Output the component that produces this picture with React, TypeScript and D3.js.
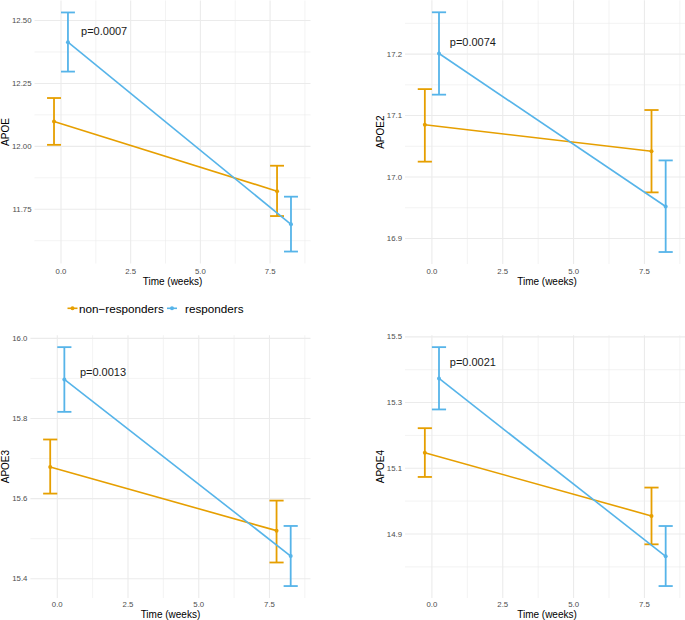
import React from "react";
import * as d3 from "d3";

// ---------- data ----------
const panelNames = ["APOE", "APOE2", "APOE3", "APOE4"];
const timePoints = [0, 8];
const groupNames = ["non\u2212responders", "responders"];
const groupColors = ["#E69F00", "#56B4E9"];
const groupDodge = [-0.25, 0.25];
const errorBarWidth = 0.5;

const nonMean = [
  [12.099, 11.822],
  [17.085, 17.042],
  [15.679, 15.52],
  [15.147, 14.955],
];
const nonLower = [
  [12.006, 11.723],
  [17.025, 16.975],
  [15.6125, 15.4405],
  [15.0736, 14.8686],
];
const nonUpper = [
  [12.192, 11.923],
  [17.143, 17.109],
  [15.7475, 15.595],
  [15.222, 15.0413],
];
const respMean = [
  [12.414, 11.69],
  [17.201, 16.952],
  [15.8975, 15.4567],
  [15.3733, 14.832],
];
const respLower = [
  [12.297, 11.582],
  [17.134, 16.878],
  [15.8165, 15.3817],
  [15.279, 14.7416],
];
const respUpper = [
  [12.532, 11.8],
  [17.268, 17.027],
  [15.978, 15.5317],
  [15.4686, 14.9243],
];

const pLabels = ["p=0.0007", "p=0.0074", "p=0.0013", "p=0.0021"];
const pLabelX = [0.72, 0.63, 0.8, 0.63];
const pLabelY = [12.459, 17.22, 15.917, 15.424];

const yTicks = [
  [11.75, 12.0, 12.25, 12.5],
  [16.9, 17.0, 17.1, 17.2],
  [15.4, 15.6, 15.8, 16.0],
  [14.9, 15.1, 15.3, 15.5],
];
const yDecimals = [2, 1, 1, 1];
const xTicks = [0, 2.5, 5, 7.5];
const xTitle = "Time (weeks)";

// ---------- layout ----------
const layouts = [
  { left: 34.5, right: 310.5, top: 0.5, bottom: 263.5, yTitleX: 5, xTickY: 271, xTitleY: 281 },
  { left: 405, right: 685.5, top: 0.3, bottom: 264, yTitleX: 380, xTickY: 271, xTitleY: 281 },
  { left: 30.4, right: 310.5, top: 335.2, bottom: 598, yTitleX: 5, xTickY: 604, xTitleY: 614 },
  { left: 405, right: 685.5, top: 335.2, bottom: 598, yTitleX: 380, xTickY: 604, xTitleY: 614 },
];

const FONT = "'Liberation Sans', Arial, Helvetica, sans-serif";

function minorBreaks(major: number[], lo: number, hi: number) {
  const step = major[1] - major[0];
  const out: number[] = [];
  for (let i = -1; i < major.length; i++) {
    const v = major[0] + step * (i + 0.5);
    if (v >= lo && v <= hi) out.push(v);
  }
  return out;
}

function Panel({ idx }: { idx: number }) {
  const L = layouts[idx];
  const groups = [
    { mean: nonMean[idx], lo: nonLower[idx], hi: nonUpper[idx] },
    { mean: respMean[idx], lo: respLower[idx], hi: respUpper[idx] },
  ];
  const allLo = d3.min(groups.flatMap((g) => g.lo)) as number;
  const allHi = d3.max(groups.flatMap((g) => g.hi)) as number;
  const yPad = (allHi - allLo) * 0.05;
  const xMin = timePoints[0] + groupDodge[0] - errorBarWidth / 2;
  const xMax = timePoints[1] + groupDodge[1] + errorBarWidth / 2;
  const xPad = (xMax - xMin) * 0.05;

  const x = d3.scaleLinear().domain([xMin - xPad, xMax + xPad]).range([L.left, L.right]);
  const y = d3.scaleLinear().domain([allLo - yPad, allHi + yPad]).range([L.bottom, L.top]);
  const [yd0, yd1] = y.domain();
  const [xd0, xd1] = x.domain();
  const xMinor = minorBreaks(xTicks, xd0, xd1);
  const yMinor = minorBreaks(yTicks[idx], yd0, yd1);
  const line = d3
    .line<[number, number]>()
    .x((d) => x(d[0]))
    .y((d) => y(d[1]));
  const fmt = d3.format(`.${yDecimals[idx]}f`);
  const midY = (L.top + L.bottom) / 2;

  return (
    <g>
      {/* minor grid */}
      {xMinor.map((v) => (
        <line key={"xm" + v} x1={x(v)} x2={x(v)} y1={L.top} y2={L.bottom} stroke="#EBEBEB" strokeWidth={0.6} />
      ))}
      {yMinor.map((v) => (
        <line key={"ym" + v} x1={L.left} x2={L.right} y1={y(v)} y2={y(v)} stroke="#EBEBEB" strokeWidth={0.6} />
      ))}
      {/* major grid */}
      {xTicks.map((v) => (
        <line key={"xM" + v} x1={x(v)} x2={x(v)} y1={L.top} y2={L.bottom} stroke="#EBEBEB" strokeWidth={1.1} />
      ))}
      {yTicks[idx].map((v) => (
        <line key={"yM" + v} x1={L.left} x2={L.right} y1={y(v)} y2={y(v)} stroke="#EBEBEB" strokeWidth={1.1} />
      ))}
      {/* tick labels */}
      {xTicks.map((v) => (
        <text key={"xt" + v} x={x(v)} y={L.xTickY} textAnchor="middle" dominantBaseline="central" fontSize={7.8} fill="#4D4D4D" fontFamily={FONT}>
          {d3.format(".1f")(v)}
        </text>
      ))}
      {yTicks[idx].map((v) => (
        <text key={"yt" + v} x={L.left - 3} y={y(v)} textAnchor="end" dominantBaseline="central" fontSize={7.8} fill="#4D4D4D" fontFamily={FONT}>
          {fmt(v)}
        </text>
      ))}
      {/* axis titles */}
      <text x={(L.left + Math.min(L.right, 685)) / 2 + (idx % 2 === 1 ? 2 : 0)} y={L.xTitleY} textAnchor="middle" dominantBaseline="central" fontSize={10} fill="#000" fontFamily={FONT}>
        {xTitle}
      </text>
      <text
        transform={`translate(${L.yTitleX},${midY}) rotate(-90)`}
        textAnchor="middle"
        dominantBaseline="central"
        fontSize={10}
        fill="#000"
        fontFamily={FONT}
      >
        {panelNames[idx]}
      </text>
      {/* series */}
      {groups.map((g, gi) => {
        const pts: [number, number][] = timePoints.map((t, ti) => [t + groupDodge[gi], g.mean[ti]]);
        return (
          <g key={"g" + gi}>
            {timePoints.map((t, ti) => {
              const cx = t + groupDodge[gi];
              return (
                <g key={"e" + ti} stroke={groupColors[gi]} strokeWidth={1.8}>
                  <line x1={x(cx)} x2={x(cx)} y1={y(g.lo[ti])} y2={y(g.hi[ti])} />
                  <line x1={x(cx - errorBarWidth / 2)} x2={x(cx + errorBarWidth / 2)} y1={y(g.lo[ti])} y2={y(g.lo[ti])} />
                  <line x1={x(cx - errorBarWidth / 2)} x2={x(cx + errorBarWidth / 2)} y1={y(g.hi[ti])} y2={y(g.hi[ti])} />
                </g>
              );
            })}
            <path d={line(pts) || ""} fill="none" stroke={groupColors[gi]} strokeWidth={1.6} />
            {pts.map((p, pi) => (
              <circle key={"p" + pi} cx={x(p[0])} cy={y(p[1])} r={2} fill={groupColors[gi]} />
            ))}
          </g>
        );
      })}
      {/* p-value label */}
      <text x={x(pLabelX[idx])} y={y(pLabelY[idx])} dominantBaseline="central" fontSize={11} fill="#1A1A1A" fontFamily={FONT}>
        {pLabels[idx]}
      </text>
    </g>
  );
}

function Legend() {
  const keyX = [67.5, 167];
  const textX = [79, 185];
  const cy = 308.3;
  return (
    <g>
      {groupNames.map((name, i) => (
        <g key={name}>
          <line x1={keyX[i]} x2={keyX[i] + 10} y1={cy} y2={cy} stroke={groupColors[i]} strokeWidth={1.6} />
          <circle cx={keyX[i] + 5} cy={cy} r={2} fill={groupColors[i]} />
          <text x={textX[i]} y={cy} dominantBaseline="central" fontSize={11.7} fill="#000" fontFamily={FONT}>
            {name}
          </text>
        </g>
      ))}
    </g>
  );
}

export default function App() {
  return (
    <svg
      width={685}
      height={620}
      viewBox="0 0 685 620"
      style={{ position: "absolute", left: 0, top: 0, background: "#fff" }}
    >
      <rect width={685} height={620} fill="#fff" />
      {panelNames.map((_, i) => (
        <Panel key={i} idx={i} />
      ))}
      <Legend />
    </svg>
  );
}
